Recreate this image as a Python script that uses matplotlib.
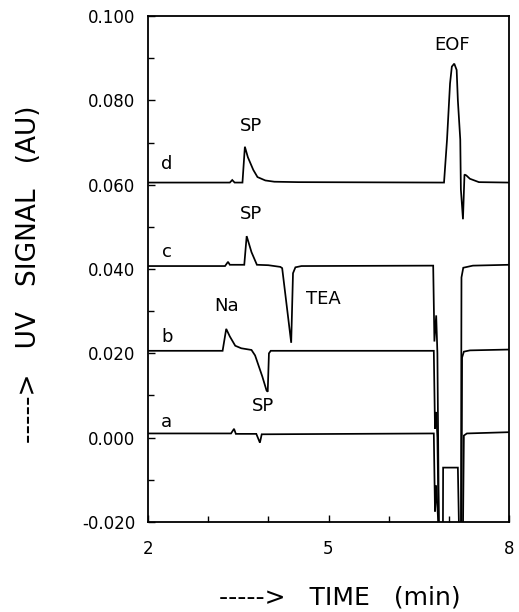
import matplotlib
matplotlib.use("Agg")
import matplotlib.pyplot as plt
from matplotlib.ticker import FixedLocator, FormatStrFormatter

plt.rcParams['font.family'] = ['DejaVu Sans']

# ---- data (time in min, UV signal in AU) ----
t_a = [2.0, 3.38, 3.43, 3.46, 3.80, 3.86, 3.89, 6.75, 6.77, 6.79, 6.82, 6.86,
       6.90, 6.905, 7.15, 7.18, 7.23, 7.25, 7.30, 8.0]
v_a = [0.0010, 0.0010, 0.0021, 0.0009, 0.0009, -0.0012, 0.0008, 0.0010, -0.0175,
       -0.0113, -0.0190, -0.0300, -0.0300, -0.0071, -0.0071, -0.0300, -0.0300,
       0.0005, 0.0010, 0.0013]

t_b = [2.0, 3.24, 3.30, 3.36, 3.45, 3.55, 3.72, 3.78, 3.90, 3.97, 3.99, 4.01,
       4.04, 6.75, 6.77, 6.79, 6.81, 6.84, 7.21, 7.22, 7.25, 7.35, 8.0]
v_b = [0.0206, 0.0206, 0.0258, 0.0240, 0.0218, 0.0212, 0.0208, 0.0195, 0.0145,
       0.0112, 0.0109, 0.0200, 0.0206, 0.0206, 0.0021, 0.0061, 0.0000, -0.0300,
       -0.0300, 0.0190, 0.0204, 0.0207, 0.0209]

t_c = [2.0, 3.28, 3.33, 3.36, 3.60, 3.64, 3.72, 3.81, 4.00, 4.20, 4.23, 4.38,
       4.41, 4.45, 4.55, 6.74, 6.76, 6.79, 6.81, 6.84, 7.20, 7.21, 7.24, 7.40, 8.0]
v_c = [0.0407, 0.0407, 0.0417, 0.0410, 0.0410, 0.0478, 0.0440, 0.0410, 0.0409,
       0.0405, 0.0402, 0.0225, 0.0390, 0.0404, 0.0407, 0.0408, 0.0228, 0.0290,
       0.0200, -0.0300, -0.0300, 0.0380, 0.0403, 0.0408, 0.0410]

t_d = [2.0, 3.36, 3.40, 3.44, 3.57, 3.61, 3.66, 3.75, 3.82, 3.95, 4.10, 4.50,
       6.92, 6.97, 7.02, 7.05, 7.09, 7.13, 7.15, 7.19, 7.20, 7.235, 7.26, 7.29,
       7.35, 7.50, 8.0]
v_d = [0.0605, 0.0605, 0.0611, 0.0605, 0.0605, 0.0690, 0.0665, 0.0635, 0.0618,
       0.0610, 0.0607, 0.0606, 0.0605, 0.0707, 0.0840, 0.0880, 0.0887, 0.0872,
       0.0800, 0.0707, 0.0589, 0.0518, 0.0624, 0.0622, 0.0614, 0.0606, 0.0605]

trace_labels = ["a", "b", "c", "d"]
trace_label_pos = [(2.31, 0.0038), (2.31, 0.0239), (2.31, 0.0440), (2.31, 0.0648)]

peak_labels = ["SP", "SP", "Na", "SP", "TEA", "EOF"]
peak_label_pos = [(3.72, 0.0738), (3.72, 0.0530), (3.31, 0.0312), (3.91, 0.0076),
                  (4.92, 0.0329), (7.05, 0.0931)]

x_major = [2, 5, 8]
x_minor = [3, 4, 6, 7]
y_major = [-0.02, 0.0, 0.02, 0.04, 0.06, 0.08, 0.10]
y_minor = [-0.01, 0.01, 0.03, 0.05, 0.07, 0.09]

# ---- figure ----
fig = plt.figure(figsize=(5.19, 6.12), dpi=100)
ax = fig.add_axes([148/519, 1 - 522/612, 361/519, 506/612])

for t, v in [(t_a, v_a), (t_b, v_b), (t_c, v_c), (t_d, v_d)]:
    ax.plot(t, v, color='black', lw=1.25, solid_joinstyle='miter')

for lab, (x, y) in zip(trace_labels, trace_label_pos):
    ax.text(x, y, lab, fontsize=13, ha='center', va='center')
for lab, (x, y) in zip(peak_labels, peak_label_pos):
    ax.text(x, y, lab, fontsize=13, ha='center', va='center')

ax.set_xlim(2, 8)
ax.set_ylim(-0.02, 0.10)
ax.xaxis.set_major_locator(FixedLocator(x_major))
ax.xaxis.set_minor_locator(FixedLocator(x_minor))
ax.yaxis.set_major_locator(FixedLocator(y_major))
ax.yaxis.set_minor_locator(FixedLocator(y_minor))
ax.yaxis.set_major_formatter(FormatStrFormatter('%.3f'))
ax.tick_params(which='both', direction='in', top=False, right=False, width=1.0)
ax.tick_params(which='major', length=5, labelsize=12)
ax.tick_params(axis='x', which='major', pad=13)
ax.tick_params(axis='y', which='major', pad=9)
ax.tick_params(which='minor', length=4)
for s in ax.spines.values():
    s.set_linewidth(1.3)

ax.set_xlabel("----->   TIME   (min)", fontsize=18)
ax.xaxis.set_label_coords(0.53, -0.125)
ax.set_ylabel("----->   UV   SIGNAL   (AU)", fontsize=19)
ax.yaxis.set_label_coords(-0.295, 0.49)

fig.savefig("out.png", dpi=100)
